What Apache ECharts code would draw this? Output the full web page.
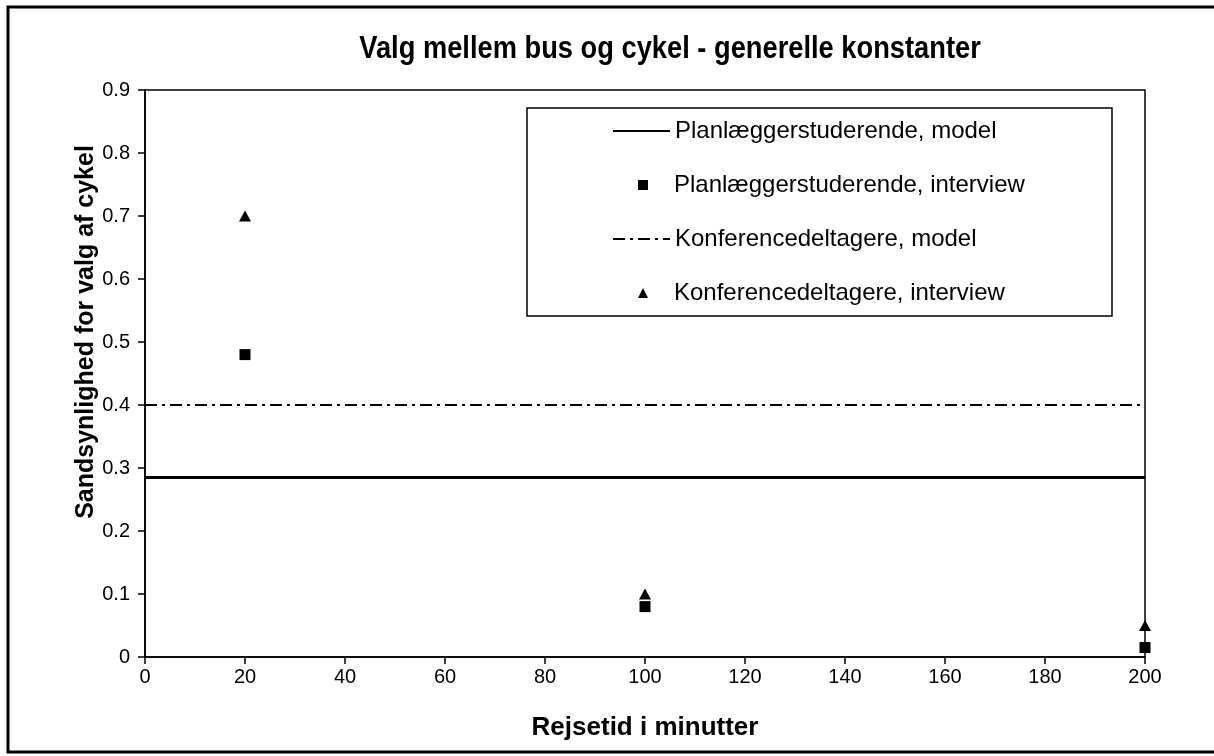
<!DOCTYPE html>
<html lang="da">
<head>
    <meta charset="utf-8">
    <title>Valg mellem bus og cykel</title>
    <script src="https://cdn.jsdelivr.net/npm/echarts@6/dist/echarts.min.js"></script>
    <style>
        html, body {margin: 0; padding: 0; background: #fff;}
    </style>
</head>
<body>
<div id="chart" style="width: 1214px;height:756px;"></div>
<script type="application/javascript">
    // data
    var xTicks = [0, 20, 40, 60, 80, 100, 120, 140, 160, 180, 200];
    var yTicks = [0, 0.1, 0.2, 0.3, 0.4, 0.5, 0.6, 0.7, 0.8, 0.9];
    var modelX = [0, 200];
    var planModel = [0.285, 0.285];
    var konfModel = [0.40, 0.40];
    var interviewX = [20, 100, 200];
    var planInterview = [0.48, 0.08, 0.015];
    var konfInterview = [0.70, 0.10, 0.05];

    var seriesNames = [
        'Planlæggerstuderende, model',
        'Planlæggerstuderende, interview',
        'Konferencedeltagere, model',
        'Konferencedeltagere, interview'
    ];

    function pairs(xs, ys) {
        return xs.map(function (x, i) { return [x, ys[i]]; });
    }

    var font = "'Liberation Sans', Arial, sans-serif";
    var legendRows = [131, 185, 239, 293];

    // one legend per row so line samples and markers can have their own size
    function legendRow(i, isLine) {
        return {
            orient: 'vertical',
            left: isLine ? 612 : 638,
            top: legendRows[i] - 12,
            padding: 0,
            data: [seriesNames[i]],
            itemWidth: isLine ? 57 : 10,
            itemHeight: isLine ? 2 : 10,
            selectedMode: false,
            textStyle: {
                fontFamily: font, fontSize: 24, color: '#000',
                padding: isLine ? 0 : [0, 0, 0, 21]
            }
        };
    }

    var chart = echarts.init(document.getElementById('chart'));

    var option = {
        backgroundColor: '#fff',
        animation: false,
        graphic: [{
            type: 'rect',
            shape: {x: 8, y: 7, width: 1220, height: 745},
            style: {fill: 'none', stroke: '#000', lineWidth: 3}
        }, {
            // legend frame
            type: 'rect',
            shape: {x: 527, y: 108, width: 585, height: 208},
            style: {fill: 'none', stroke: '#000', lineWidth: 1.5}
        }, {
            // title, slightly condensed like the original
            type: 'text',
            x: 670, y: 49, scaleX: 0.88,
            style: {
                text: 'Valg mellem bus og cykel - generelle konstanter',
                fontFamily: font, fontSize: 31, fontWeight: 'bold', fill: '#000',
                align: 'center', verticalAlign: 'middle'
            }
        }, {
            // y axis title
            type: 'text',
            x: 86, y: 332, rotation: Math.PI / 2,
            style: {
                text: 'Sandsynlighed for valg af cykel',
                fontFamily: font, fontSize: 25, fontWeight: 'bold', fill: '#000',
                align: 'center', verticalAlign: 'middle'
            }
        }],
        grid: {
            left: 145, top: 90, width: 1000, height: 567,
            show: true, borderColor: '#000', borderWidth: 1.5
        },
        legend: [
            legendRow(0, true),
            legendRow(1, false),
            legendRow(2, true),
            legendRow(3, false)
        ],
        xAxis: {
            type: 'value', min: 0, max: 200, interval: 20,
            name: 'Rejsetid i minutter',
            nameLocation: 'middle', nameGap: 58,
            nameTextStyle: {fontFamily: font, fontSize: 26, fontWeight: 'bold', color: '#000'},
            axisLine: {lineStyle: {color: '#000', width: 1.5}},
            axisTick: {length: 7, lineStyle: {color: '#000', width: 1.5}},
            axisLabel: {fontFamily: font, fontSize: 20, color: '#000', margin: 10},
            splitLine: {show: false}
        },
        yAxis: {
            type: 'value', min: 0, max: 0.9, interval: 0.1,
            axisLine: {show: true, lineStyle: {color: '#000', width: 1.5}},
            axisTick: {show: true, length: 7, lineStyle: {color: '#000', width: 1.5}},
            axisLabel: {fontFamily: font, fontSize: 20, color: '#000', margin: 15},
            splitLine: {show: false}
        },
        series: [{
            name: seriesNames[0],
            type: 'line',
            data: pairs(modelX, planModel),
            symbol: 'none',
            itemStyle: {color: '#000'},
            lineStyle: {color: '#000', width: 3, type: 'solid'}
        }, {
            name: seriesNames[1],
            type: 'scatter',
            data: pairs(interviewX, planInterview),
            symbol: 'rect', symbolSize: 11,
            itemStyle: {color: '#000', opacity: 1}
        }, {
            name: seriesNames[2],
            type: 'line',
            data: pairs(modelX, konfModel),
            symbol: 'none',
            itemStyle: {color: '#000'},
            lineStyle: {color: '#000', width: 2, type: [12, 5, 3, 5]}
        }, {
            name: seriesNames[3],
            type: 'scatter',
            data: pairs(interviewX, konfInterview),
            symbol: 'triangle', symbolSize: [12, 11],
            itemStyle: {color: '#000', opacity: 1}
        }]
    };

    chart.setOption(option);
</script>
</body>
</html>
